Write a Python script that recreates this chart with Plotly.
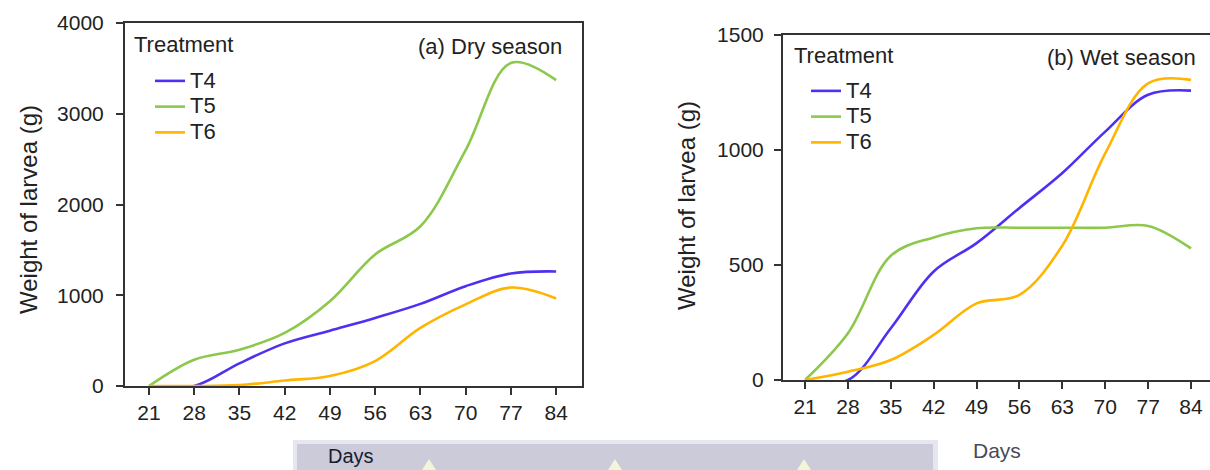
import plotly.graph_objects as go

W, H = 1210, 470

# ---------------- data ----------------
days = [21, 28, 35, 42, 49, 56, 63, 70, 77, 84]
series_names = ["T4", "T5", "T6"]

dry_T4 = [0, 0, 250, 470, 610, 750, 905, 1100, 1240, 1262]
dry_T5 = [0, 290, 400, 585, 935, 1450, 1760, 2600, 3560, 3370]
dry_T6 = [0, 0, 10, 60, 110, 275, 640, 900, 1085, 965]

wet_T4 = [0, 0, 225, 472, 595, 748, 900, 1080, 1240, 1258]
wet_T5 = [0, 203, 540, 620, 660, 662, 662, 662, 670, 572]
wet_T6 = [0, 36, 87, 196, 333, 370, 585, 985, 1290, 1305]

x_ticks = [21, 28, 35, 42, 49, 56, 63, 70, 77, 84]
dry_y_ticks = [0, 1000, 2000, 3000, 4000]
wet_y_ticks = [0, 500, 1000, 1500]

colors = {"T4": "#4f30f2", "T5": "#8cc84b", "T6": "#ffb400"}

def px(x):
    return x / W

def py(y):
    return 1 - y / H

FONT = "Liberation Sans, Arial, sans-serif"
TXT = "#222222"
AX = "#333333"

fig = go.Figure()
dry = {"T4": dry_T4, "T5": dry_T5, "T6": dry_T6}
wet = {"T4": wet_T4, "T5": wet_T5, "T6": wet_T6}

def label(name):
    return f'<span style="font-size:22px">{name}</span>'

for name in series_names:
    fig.add_trace(go.Scatter(
        x=days, y=dry[name], name=label(name), mode="lines",
        line=dict(color=colors[name], width=2.6, shape="spline", smoothing=1.0),
        xaxis="x", yaxis="y", legend="legend"))
for name in series_names:
    fig.add_trace(go.Scatter(
        x=days, y=wet[name], name=label(name), mode="lines",
        line=dict(color=colors[name], width=2.6, shape="spline", smoothing=1.0),
        xaxis="x2", yaxis="y2", legend="legend2"))

axis_common = dict(
    showgrid=False, zeroline=False, showline=True, linecolor=AX, linewidth=2,
    ticks="outside", ticklen=7, tickwidth=2, tickcolor=AX, automargin=False,
    tickfont=dict(family=FONT, size=21, color=TXT),
)
legend_common = dict(
    bgcolor="rgba(0,0,0,0)", borderwidth=0,
    font=dict(family=FONT, size=17.5, color=TXT),
    xanchor="left", yanchor="top", tracegroupgap=0,
)

fig.update_layout(
    width=W, height=H, autosize=False,
    margin=dict(l=0, r=0, t=0, b=0, pad=0, autoexpand=False),
    paper_bgcolor="white", plot_bgcolor="white",
    xaxis=dict(domain=[px(125), px(582)], range=[17.3, 88.0], anchor="y",
               tickvals=x_ticks, mirror=True, **axis_common),
    yaxis=dict(domain=[py(386), py(23)], range=[0, 4000], anchor="x",
               tickvals=dry_y_ticks, mirror=True, ticklabelstandoff=8, **axis_common),
    xaxis2=dict(domain=[px(783), 1.0], range=[17.4, 87.1], anchor="y2",
                tickvals=x_ticks, mirror=True, **axis_common),
    yaxis2=dict(domain=[py(380), py(35)], range=[0, 1500], anchor="x2",
                tickvals=wet_y_ticks, mirror=False, ticklabelstandoff=6, **axis_common),
    legend=dict(x=px(150), y=py(63), **legend_common),
    legend2=dict(x=px(806), y=py(73), **legend_common),
    showlegend=True,
)

ann = []
def text(x, y, s, size=22, xanchor="left", yanchor="middle", angle=0, color=TXT):
    ann.append(dict(x=px(x), y=py(y), xref="paper", yref="paper", text=s,
                    showarrow=False, xanchor=xanchor, yanchor=yanchor,
                    textangle=angle, font=dict(family=FONT, size=size, color=color)))

text(132, 44, "Treatment", size=22)
text(792, 56, "Treatment", size=22)
text(564, 46, "(a) Dry season", size=22, xanchor="right")
text(1198, 58, "(b) Wet season", size=22, xanchor="right")
text(28, 210, "Weight of larvea (g)", size=24, xanchor="center", angle=-90)
text(686, 206, "Weight of larvea (g)", size=24, xanchor="center", angle=-90)
text(997, 450, "Days", size=21, xanchor="center", color="#4a4a55")

# grey band at the bottom of the source picture, holding the left panel's "Days"
shapes = [
    dict(type="rect", xref="paper", yref="paper", x0=px(293), x1=px(938),
         y0=py(470), y1=py(440), fillcolor="#e6e6ee", line=dict(width=0), layer="below"),
    dict(type="rect", xref="paper", yref="paper", x0=px(297), x1=px(933),
         y0=py(470), y1=py(444), fillcolor="#cbcbda", line=dict(width=0), layer="below"),
]
for bx in [429, 615, 804]:
    shapes.append(dict(type="path", xref="paper", yref="paper",
                       path=f"M {px(bx-7)},{py(470)} L {px(bx)},{py(459)} L {px(bx+7)},{py(470)} Z",
                       fillcolor="#f4f4d8", line=dict(width=0), layer="below"))
ann.append(dict(x=px(326), y=py(469), xref="paper", yref="paper", text="Days",
                showarrow=False, xanchor="left", yanchor="bottom",
                font=dict(family=FONT, size=20, color="#1a1a2e")))

fig.update_layout(annotations=ann, shapes=shapes)
fig.write_html("out.html")
